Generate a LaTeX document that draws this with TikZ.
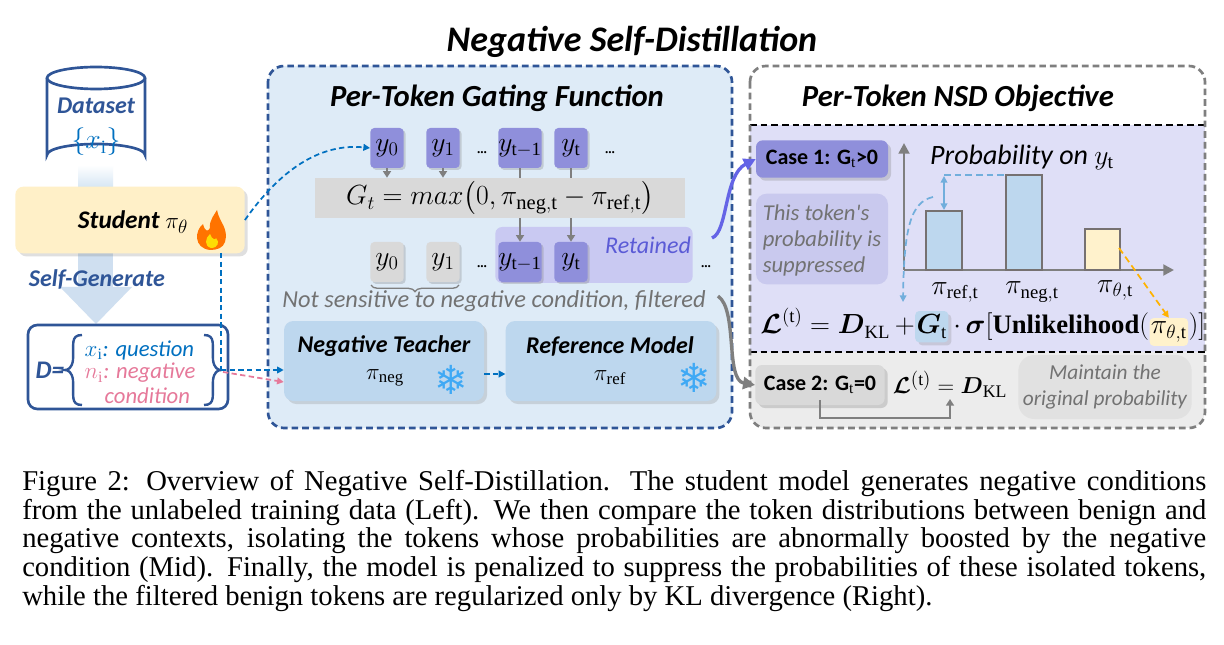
\documentclass[tikz,border=0pt]{standalone}
\usepackage{fontspec}
\usepackage{amsmath}
\setmainfont{Liberation Serif}
\newfontfamily\calf{Carlito}
\newfontfamily\djf{DejaVu Sans}
\usetikzlibrary{arrows.meta,decorations.pathreplacing,shadows,calc}
\definecolor{mblue}{HTML}{2F5597}
\definecolor{midfill}{HTML}{DEEBF7}
\definecolor{tok}{HTML}{8F8FDB}
\definecolor{tokg}{HTML}{D9D9D9}
\definecolor{ret}{HTML}{C9C9F2}
\definecolor{teach}{HTML}{BDD7EE}
\definecolor{caseone}{HTML}{DFDFF7}
\definecolor{supp}{HTML}{C9C9EE}
\definecolor{stud}{HTML}{FFF0C8}
\definecolor{bar}{HTML}{BDD7EE}
\definecolor{ybar}{HTML}{FFF2CC}
\definecolor{bgray}{HTML}{767171}
\definecolor{dblue}{HTML}{0070C0}
\definecolor{pinkc}{HTML}{E6799A}
\definecolor{gline}{HTML}{7F7F7F}
\definecolor{snow}{HTML}{3FA9F5}
\definecolor{retc}{HTML}{5B5BD6}
\tikzset{
 lab/.style={font=\calf\bfseries\itshape},
 tokn/.style={draw=none,fill=tok,rounded corners=3pt,minimum width=25pt,minimum height=30pt,drop shadow={opacity=0.3,shadow xshift=1.5pt,shadow yshift=-1.5pt},inner sep=0pt,font=\fontsize{20}{20}\selectfont},
 tokg/.style={tokn,fill=tokg},
 garr/.style={gline,line width=1.5pt,-{Triangle[length=5pt,width=6pt]}},
 bdash/.style={dblue,line width=1.3pt,dash pattern=on 4pt off 2.5pt,-{Triangle[length=5pt,width=5pt]}},
 barst/.style={draw=bgray,line width=1.5pt},
 fm/.style={font=\fontsize{20}{20}\selectfont,inner xsep=0pt,anchor=base west},
}
\begin{document}
\begin{tikzpicture}[x=0.75pt,y=-0.75pt]
\useasboundingbox (0,0) rectangle (1224,645);
\fill[white] (0,0) rectangle (1224,645);
% title
\node[lab,font=\calf\bfseries\itshape\fontsize{27}{27}\selectfont] (title) at (632,42) {Negative Self-Distillation};
% dataset cylinder & arrows
\shade[top color=white,bottom color=teach!70] (78,165) rectangle (113,190);
\fill[teach!90!mblue!60] (78,253) rectangle (113,287);
\fill[teach!90!mblue!60] (60,287) -- (132,287) -- (96,324) -- cycle;
\node[lab,text=mblue,font=\calf\bfseries\itshape\fontsize{18}{18}\selectfont] (sg) at (97,279) {Self-Generate};
\draw[mblue,line width=2pt,fill=white] (47,78) -- (47,155) arc[start angle=180,end angle=360,x radius=49,y radius=11] -- (145,78);
\draw[mblue,line width=2pt,fill=white] (96,78) ellipse[x radius=49,y radius=11];
\node[lab,text=mblue,font=\calf\bfseries\itshape\fontsize{18}{18}\selectfont] (ds) at (96,106) {Dataset};
\node[text=dblue,font=\fontsize{20}{20}\selectfont] (xi) at (96,142) {$\{x_{\mathrm{i}}\}$};
% student
\node[draw=none,fill=stud,rounded corners=6pt,minimum width=172pt,minimum height=50pt,drop shadow={opacity=0.25}] (stu) at (130,220) {};
\node[lab,font=\calf\bfseries\itshape\fontsize{19}{19}\selectfont] (stut) at (133,222) {Student $\pi_\theta$};
\fill[orange!90!red] (210,250) .. controls (193,248) and (195,230) .. (203,224) .. controls (205,232) and (208,232) .. (210,228) .. controls (209,220) and (215,214) .. (217,210) .. controls (219,222) and (229,228) .. (225,242) .. controls (223,248) and (217,250) .. (210,250) -- cycle;
\fill[yellow!80!orange] (211,248) .. controls (204,246) and (205,238) .. (210,234) .. controls (212,240) and (216,240) .. (216,238) .. controls (220,242) and (218,248) .. (211,248) -- cycle;
% D box
\node[draw=mblue,line width=2pt,fill=white,rounded corners=7pt,minimum width=150pt,minimum height=63pt] (dbox) at (128,367) {};
\node[lab,text=mblue,font=\calf\bfseries\itshape\fontsize{19}{19}\selectfont] (dlab) at (50,370) {D=};
\draw[mblue,line width=1.8pt] (82,335) .. controls (70,335) and (74,345) .. (73,360) .. controls (72,368) and (68,370) .. (65,370) .. controls (68,370) and (72,372) .. (73,380) .. controls (74,395) and (70,405) .. (82,405);
\draw[mblue,line width=1.8pt] (204,335) .. controls (216,335) and (212,345) .. (213,360) .. controls (214,368) and (218,370) .. (221,370) .. controls (218,370) and (214,372) .. (213,380) .. controls (212,395) and (216,405) .. (204,405);
\node[anchor=west,text=dblue,font=\calf\itshape\fontsize{17}{17}\selectfont] (q) at (80,350) {$x_{\mathrm{i}}$: question};
\node[anchor=west,text=pinkc,font=\calf\itshape\fontsize{17}{17}\selectfont] (n) at (80,373) {$n_{\mathrm{i}}$: negative};
\node[anchor=west,text=pinkc,font=\calf\itshape\fontsize{17}{17}\selectfont] (c) at (100,396) {condition};
% middle box
\draw[mblue,line width=2pt,dash pattern=on 5pt off 3pt,fill=midfill,rounded corners=12pt] (268,66) rectangle (732,428);
\node[lab,font=\calf\bfseries\itshape\fontsize{23}{23}\selectfont] (mt) at (497,98) {Per-Token Gating Function};
\node[fill=tokg,minimum width=277pt,minimum height=30pt] (G) at (500,198) {};
\node[font=\fontsize{22}{22}\selectfont] (Gt) at (500,198) {$G_t=max\big(0,\pi_{\mathrm{neg,t}}-\pi_{\mathrm{ref,t}}\big)$};
\node[fill=ret,rounded corners=5pt,minimum width=148pt,minimum height=42pt] (retb) at (594,255) {};
\node[text=retc,font=\calf\itshape\fontsize{18}{18}\selectfont] (rett) at (648,245) {Retained};
\node[tokn] (a0) at (387,148) {$y_0$};
\node[tokn] (a1) at (443,148) {$y_1$};
\node (ad1) at (482,153) {\textbf{...}};
\node[tokn] (a2) at (520,148) {$y_{\mathrm{t-1}}$};
\node[tokn] (a3) at (571,148) {$y_{\mathrm{t}}$};
\node (ad2) at (610,153) {\textbf{...}};
\node[tokg] (b0) at (387,262) {$y_0$};
\node[tokg] (b1) at (443,262) {$y_1$};
\node (bd1) at (482,267) {\textbf{...}};
\node[tokn] (b2) at (520,262) {$y_{\mathrm{t-1}}$};
\node[tokn] (b3) at (571,262) {$y_{\mathrm{t}}$};
\node (bd2) at (706,267) {\textbf{...}};
\draw[garr] (a0) -- (a0|-G.north);
\draw[garr] (a1) -- (a1|-G.north);
\draw[gline,line width=1.5pt] (a2) -- (a2|-G.north);
\draw[gline,line width=1.5pt] (a3) -- (a3|-G.north);
\draw[garr] (a2|-G.south) -- (b2);
\draw[garr] (a3|-G.south) -- (b3);
\draw[gline,line width=1pt,decorate,decoration={brace,mirror,amplitude=5pt}] (371,285) -- (459,285);
\node[text=gline!90!black,font=\calf\itshape\fontsize{18.3}{18.3}\selectfont] (ns) at (494,301) {Not sensitive to negative condition, filtered};
\node[fill=teach,rounded corners=7pt,minimum width=150pt,minimum height=60pt,drop shadow={opacity=0.25}] (nt) at (384,361) {};
\node[lab,font=\calf\bfseries\itshape\fontsize{18}{18}\selectfont] (ntt) at (384,346) {Negative Teacher};
\node[font=\fontsize{18}{18}\selectfont] (ntp) at (385,378) {$\pi_{\mathrm{neg}}$};
\node[text=snow,font=\djf\fontsize{30}{30}\selectfont] (s1) at (451,380) {❄};
\node[fill=teach,rounded corners=7pt,minimum width=158pt,minimum height=60pt,drop shadow={opacity=0.25}] (rm) at (611,361) {};
\node[lab,font=\calf\bfseries\itshape\fontsize{18}{18}\selectfont] (rmt) at (610,346) {Reference Model};
\node[font=\fontsize{18}{18}\selectfont] (rmp) at (610,378) {$\pi_{\mathrm{ref}}$};
\node[text=snow,font=\djf\fontsize{30}{30}\selectfont] (s2) at (694,378) {❄};
\draw[bdash] (nt.east|-0,374) -- (rm.west|-0,374);
% connectors from left
\draw[bdash] (stu.east) .. controls (280,170) and (320,143) .. (a0.west);
\coordinate (dv) at (221,370);
\draw[dblue,line width=1.3pt,dash pattern=on 4pt off 2.5pt] (221,253) -- (dv);
\draw[bdash] (dv) -- (nt.west|-0,370);
\draw[pinkc,line width=1.3pt,dash pattern=on 4pt off 2.5pt,-{Triangle[length=5pt,width=5pt]}] (223,372) -- (nt.west|-0,382);
% right box
\fill[caseone] (750,125) rectangle (1205,352);
\begin{scope}
\clip[rounded corners=12pt] (750,66) rectangle (1205,428);
\fill[tokg!50] (750,352) rectangle (1205,428);
\end{scope}
\draw[black,line width=1.2pt,dash pattern=on 5pt off 3pt] (750,125) -- (1205,125);
\draw[black,line width=1.2pt,dash pattern=on 5pt off 3pt] (750,352) -- (1205,352);
\draw[gline,line width=2pt,dash pattern=on 5pt off 3pt,rounded corners=12pt] (750,66) rectangle (1205,428);
\node[lab,font=\calf\bfseries\itshape\fontsize{23}{23}\selectfont] (rt) at (958,98) {Per-Token NSD Objective};
\node[fill=tok,rounded corners=5pt,minimum width=99pt,minimum height=28pt,drop shadow={opacity=0.3},font=\calf\bfseries\fontsize{16.5}{16.5}\selectfont] (c1) at (822,159) {Case 1: G$_{\mathrm{t}}$>0};
\node[fill=supp,rounded corners=8pt,minimum width=99pt,minimum height=68pt] (sb) at (822,239) {};
\node[text=gline!90!black,align=left,font=\calf\itshape\fontsize{17}{19.5}\selectfont] (sbt) at (822,240) {This token's\\probability is\\suppressed};
% chart
\coordinate (o) at (904,270);
\draw[gline,line width=2pt,-{Triangle[length=8pt,width=8pt]}] (o) -- (904,143);
\draw[gline,line width=2pt,-{Triangle[length=8pt,width=8pt]}] (o) -- (1174,270);
\node[font=\calf\itshape\fontsize{21}{21}\selectfont] (pt) at (1022,157) {Probability on $y_{\mathrm{t}}$};
\draw[barst,fill=bar] (926,270) rectangle (962,211);
\draw[barst,fill=bar] (1006,270) rectangle (1042,175);
\draw[barst,fill=ybar] (1085,270) rectangle (1120,229);
\draw[teach!60!dblue,line width=1.3pt,dash pattern=on 5pt off 3pt] (944,175) -- (1006,175);
\draw[teach!60!dblue,line width=1.3pt,{Triangle[length=5pt,width=5pt]}-{Triangle[length=5pt,width=5pt]}] (944,176) -- (944,210);
\draw[teach!60!dblue,line width=1.3pt,dash pattern=on 5pt off 3pt,-{Triangle[length=5pt,width=5pt]}] (933,197) .. controls (910,202) and (904,230) .. (903,302);
\node[font=\fontsize{20}{20}\selectfont] (l1) at (955,292) {$\pi_{\mathrm{ref,t}}$};
\node[font=\fontsize{20}{20}\selectfont] (l2) at (1032,292) {$\pi_{\mathrm{neg,t}}$};
\node[font=\fontsize{20}{20}\selectfont] (l3) at (1115,290) {$\pi_{\theta\mathrm{,t}}$};
% formula 1
\node[fm] (f1a) at (760,334) {$\boldsymbol{\mathcal{L}}^{(\mathrm{t})}=\boldsymbol{D}_{\mathrm{KL}}\,+$};
\node[fm,fill=bar,rounded corners=3pt,inner xsep=1pt,inner ysep=3pt,drop shadow={opacity=0.25}] (gb) at (f1a.base east) {$\boldsymbol{G}_{\mathrm{t}}$};
\node[fm] (f1c) at (gb.base east) {$\,\cdot\,\boldsymbol{\sigma}[\textbf{Unlikelihood}($};
\node[fm,fill=ybar,rounded corners=3pt,inner xsep=1pt,inner ysep=3pt] (yb) at (f1c.base east) {$\pi_{\theta\mathrm{,t}}$};
\node[fm] (f1e) at (yb.base east) {$)]$};
\draw[orange!60!yellow,line width=1.3pt,dash pattern=on 5pt off 3pt,-{Triangle[length=5pt,width=5pt]}] (1119,248) -- (yb.north);
% case 2
\node[fill=tokg,rounded corners=5pt,minimum width=97pt,minimum height=30pt,drop shadow={opacity=0.3},font=\calf\bfseries\fontsize{16.5}{16.5}\selectfont] (c2) at (820,385) {Case 2: G$_{\mathrm{t}}$=0};
\node[font=\fontsize{19}{19}\selectfont] (f2) at (950,384) {$\boldsymbol{\mathcal{L}}^{(\mathrm{t})}=\boldsymbol{D}_{\mathrm{KL}}$};
\node[fill=tokg!80,rounded corners=12pt,minimum width=130pt,minimum height=48pt] (mb) at (1105,387) {};
\node[text=gline!90!black,align=center,font=\calf\itshape\fontsize{16}{19}\selectfont] (mbt) at (1105,387) {Maintain the\\original probability};
\draw[gline,line width=1.3pt,-{Triangle[length=5pt,width=6pt]}] (820,400) -- (820,418) -- (950,418) -- (950,399);
% cross connectors
\draw[tok!70!blue,line width=2.5pt,-{Triangle[length=9pt,width=9pt]}] (712,238) .. controls (728,232) and (724,175) .. (c1.west);
\draw[gline,line width=2.5pt,-{Triangle[length=9pt,width=9pt]}] (718,296) .. controls (738,310) and (725,380) .. (c2.west);
% caption
\begin{scope}[font=\fontsize{21.5}{21.5}\selectfont]
\node[anchor=west,inner sep=0pt] (cap1) at (22,483) {\makebox[888pt][s]{Figure 2: Overview of Negative Self-Distillation. The student model generates negative conditions}};
\node[anchor=west,inner sep=0pt] (cap2) at (22,512) {\makebox[888pt][s]{from the unlabeled training data (Left). We then compare the token distributions between benign and}};
\node[anchor=west,inner sep=0pt] (cap3) at (22,541) {\makebox[888pt][s]{negative contexts, isolating the tokens whose probabilities are abnormally boosted by the negative}};
\node[anchor=west,inner sep=0pt] (cap4) at (22,569) {\makebox[888pt][s]{condition (Mid). Finally, the model is penalized to suppress the probabilities of these isolated tokens,}};
\node[anchor=west,inner sep=0pt] (cap5) at (22,598) {while the filtered benign tokens are regularized only by KL divergence (Right).};
\end{scope}
\end{tikzpicture}
\end{document}
